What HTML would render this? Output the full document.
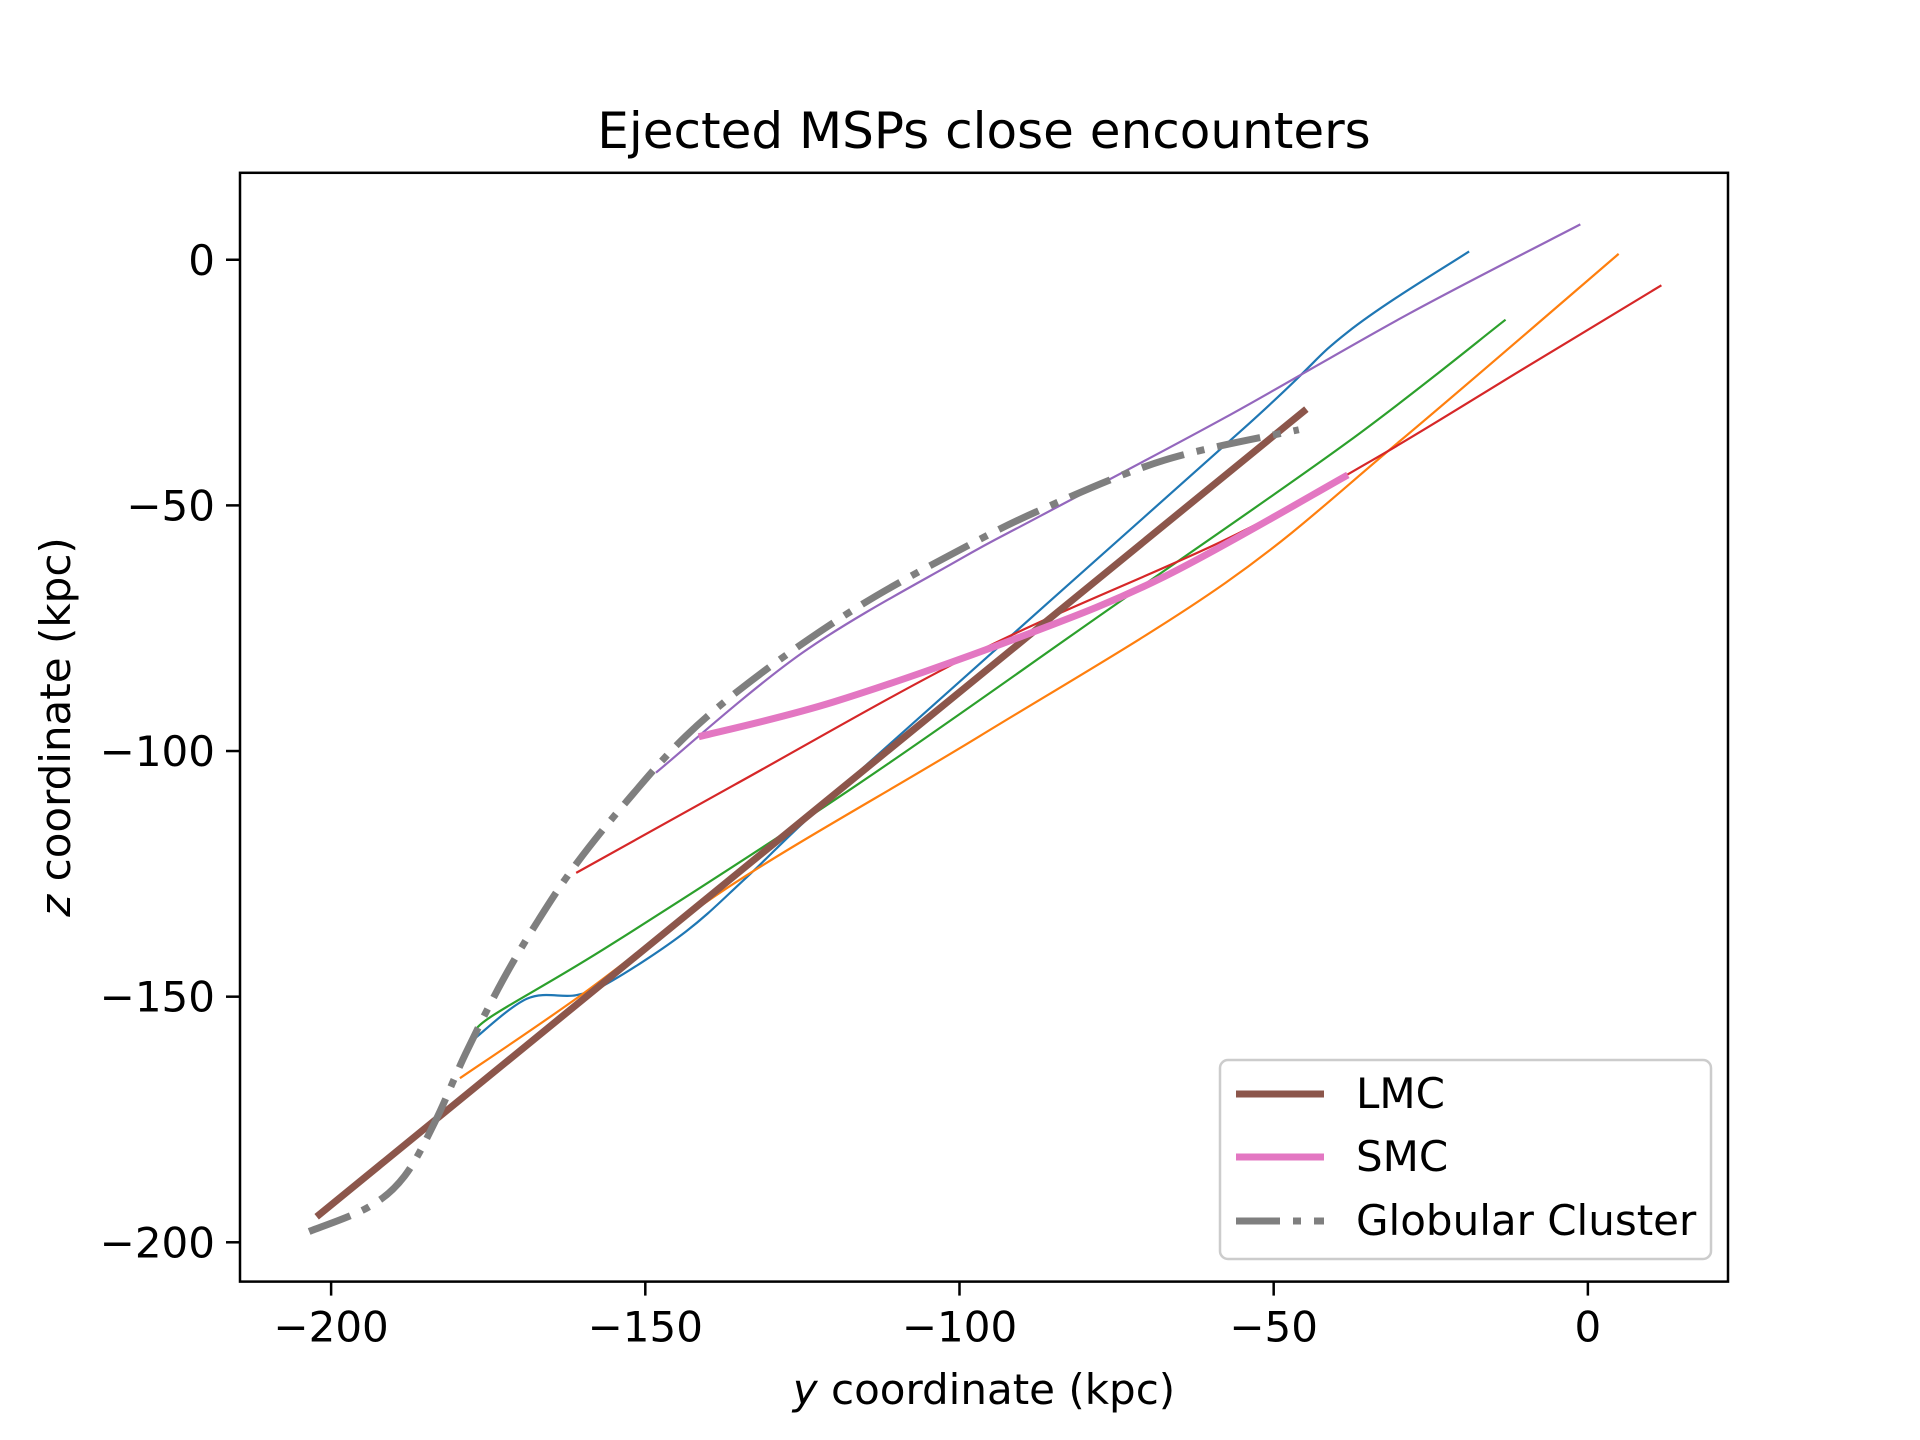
<!DOCTYPE html>
<html><head><meta charset="utf-8"><style>
html,body{margin:0;padding:0;background:#fff}
svg{display:block;font-family:"DejaVu Sans","Liberation Sans",sans-serif}
</style></head><body>
<svg id="chart" width="1920" height="1440" viewBox="0 0 1920 1440">
<rect width="1920" height="1440" fill="#fff"/>
<text x="984" y="148" font-size="50" text-anchor="middle">Ejected MSPs close encounters</text>
<g id="series"></g>
<rect x="240" y="172.8" width="1488" height="1108.8" fill="none" stroke="#000" stroke-width="2.5"/>
<g id="xticks"></g>
<g id="yticks"></g>
<text x="984" y="1404" font-size="42" text-anchor="middle"><tspan font-style="italic">y</tspan> coordinate (kpc)</text>
<text transform="translate(70,727) rotate(-90)" font-size="42" text-anchor="middle"><tspan font-style="italic">z</tspan> coordinate (kpc)</text>
<g>
<rect x="1220" y="1060" width="491" height="199" rx="8" fill="#fff" fill-opacity="0.8" stroke="#ccc" stroke-width="2.5"/>
<g><line x1="1236" y1="1094" x2="1324" y2="1094" stroke="#8c564b" stroke-width="7"/><text x="1356" y="1108" font-size="42">LMC</text></g>
<g><line x1="1236" y1="1157" x2="1324" y2="1157" stroke="#e377c2" stroke-width="7"/><text x="1356" y="1171" font-size="42">SMC</text></g>
<g><line x1="1236" y1="1221" x2="1324" y2="1221" stroke="#7f7f7f" stroke-width="7" stroke-dasharray="44,13,8,13"/><text x="1356" y="1235" font-size="42">Globular Cluster</text></g>
</g>
</svg>
<script>
const xTicks=[-200,-150,-100,-50,0];
const yTicks=[0,-50,-100,-150,-200];
const blueX=[-177.6,-168.8,-161,-155.2,-143.5,-133.7,-116.2,-55,-38.2,-18.9];
const blueY=[-159,-150.4,-149.7,-146.7,-136.7,-125.5,-104.4,-34.6,-14.7,1.7];
const orangeX=[-179.5,-161,-135.7,-96.7,-57.7,-30,4.9];
const orangeY=[-166.6,-150.4,-126.8,-96.9,-65.8,-37,1.2];
const greenX=[-177,-174.7,-155.2,-116.2,-77.2,-38.2,-13.1];
const greenY=[-158,-154.2,-139.2,-106.8,-72,-37.1,-12.2];
const redX=[-161,-135.7,-96.7,-57.7,-34.3,-10,11.7];
const redY=[-124.8,-106.8,-79.5,-57,-40.8,-22,-5.2];
const purpleX=[-148.3,-125,-100,-86.9,-57.7,-28.5,-1.2];
const purpleY=[-104.4,-80,-61,-52,-32.1,-11,7.2];
const lmcX=[-202.3,-44.8];
const lmcY=[-194.8,-30.4];
const smcX=[-141.5,-120,-90.8,-67.4,-38.2];
const smcY=[-97.1,-90,-77,-64.5,-43.8];
const gcX=[-203.5,-194,-188.3,-183.4,-178.6,-172.7,-166.9,-161,-153.2,-143.5,-131.8,-116.2,-100.6,-86.9,-67.4,-46];
const gcY=[-197.8,-192.8,-186.5,-175.3,-161.6,-146.7,-134.2,-123,-110.6,-96.9,-84.4,-70.7,-59.5,-50.8,-40.8,-34.6];

const X0=240,X1=1728,Y0=1281.6,Y1=172.8;
const xmin=-214.5,xmax=22.3,ymin=-208.0,ymax=17.7;
function sx(v){return X0+(v-xmin)/(xmax-xmin)*(X1-X0);}
function sy(v){return Y0-(v-ymin)/(ymax-ymin)*(Y0-Y1);}
const NS='http://www.w3.org/2000/svg';
function mk(t,a){const e=document.createElementNS(NS,t);for(const k in a)e.setAttribute(k,a[k]);return e;}
function smoothPath(xs,ys){
  const p=xs.map((x,i)=>[sx(x),sy(ys[i])]);
  if(p.length<3) return 'M'+p.map(q=>q.join(',')).join(' L');
  let d='M'+p[0][0]+','+p[0][1];
  for(let i=0;i<p.length-1;i++){
    const a=p[i-1]||p[i],b=p[i],c=p[i+1],e=p[i+2]||c;
    d+=' C'+(b[0]+(c[0]-a[0])/6)+','+(b[1]+(c[1]-a[1])/6)+' '+(c[0]-(e[0]-b[0])/6)+','+(c[1]-(e[1]-b[1])/6)+' '+c[0]+','+c[1];
  }
  return d;
}
const g=document.getElementById('series');
const defs=[
 ['series-blue',blueX,blueY,'#1f77b4',2.2,null],
 ['series-orange',orangeX,orangeY,'#ff7f0e',2.2,null],
 ['series-green',greenX,greenY,'#2ca02c',2.2,null],
 ['series-red',redX,redY,'#d62728',2.2,null],
 ['series-purple',purpleX,purpleY,'#9467bd',2.2,null],
 ['series-lmc',lmcX,lmcY,'#8c564b',7,null],
 ['series-smc',smcX,smcY,'#e377c2',7,null],
 ['series-globular-cluster',gcX,gcY,'#7f7f7f',7,'44,13,8,13']
];
defs.forEach(s=>{
  const el=mk('path',{d:smoothPath(s[1],s[2]),fill:'none',stroke:s[3],'stroke-width':s[4]});
  if(s[5]) el.setAttribute('stroke-dasharray',s[5]);
  
  
  g.appendChild(el);
});
const xg=document.getElementById('xticks');
xTicks.forEach(v=>{
  const x=sx(v);
  const t=mk('line',{x1:x,y1:Y0,x2:x,y2:Y0+14,stroke:'#000','stroke-width':2.5});
  
  
  xg.appendChild(t);
  const l=mk('text',{x:x,y:Y0+60,'font-size':42,'text-anchor':'middle'});
  l.textContent=v<0?'\u2212'+Math.abs(v):String(v);
  
  
  xg.appendChild(l);
});
const yg=document.getElementById('yticks');
yTicks.forEach(v=>{
  const y=sy(v);
  const t=mk('line',{x1:X0-14,y1:y,x2:X0,y2:y,stroke:'#000','stroke-width':2.5});
  
  
  yg.appendChild(t);
  const l=mk('text',{x:X0-25,y:y+15,'font-size':42,'text-anchor':'end'});
  l.textContent=v<0?'\u2212'+Math.abs(v):String(v);
  
  
  yg.appendChild(l);
});
</script>
</body></html>
